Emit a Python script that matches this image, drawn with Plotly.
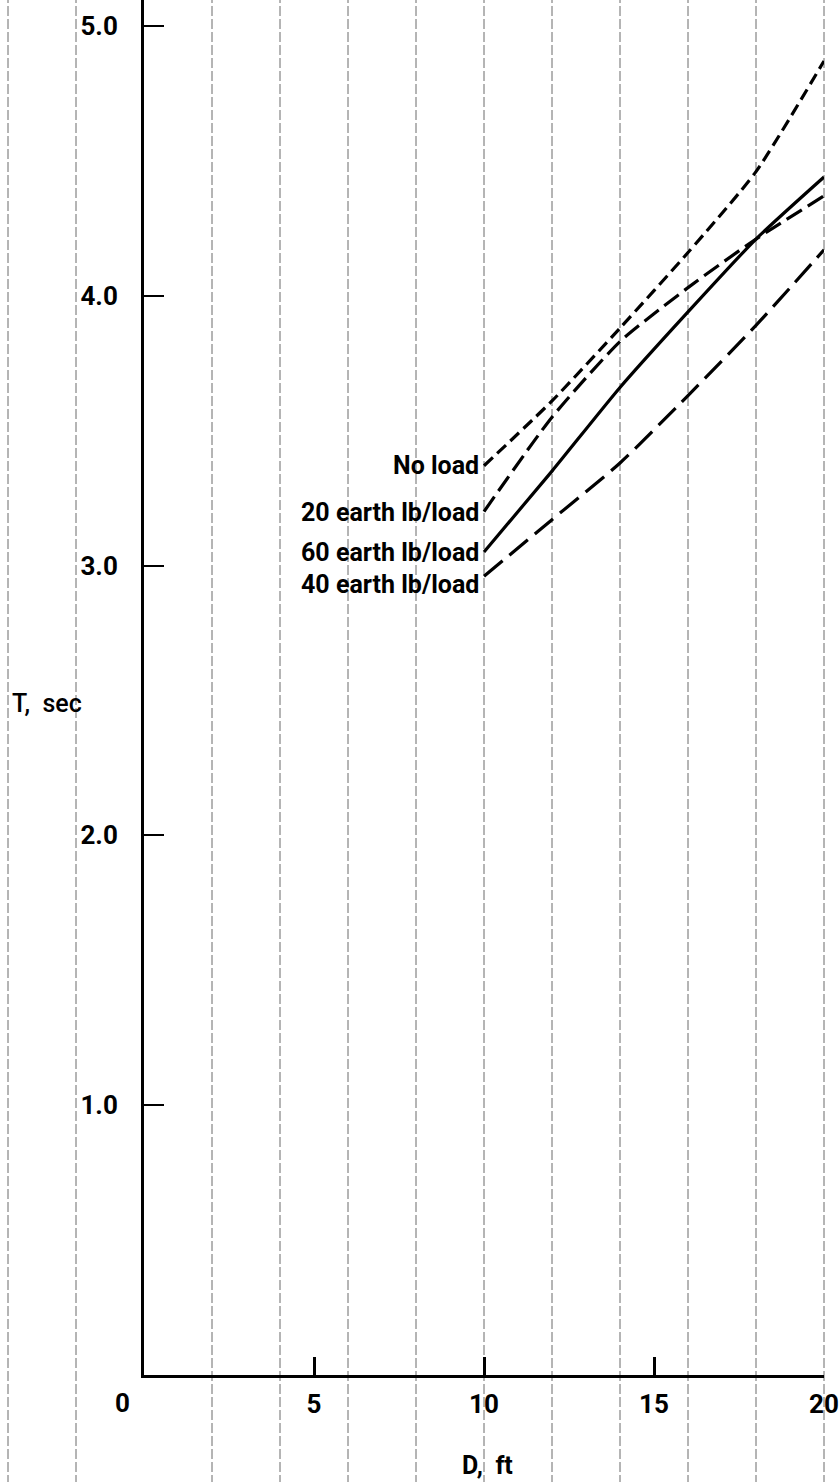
import plotly.graph_objects as go

# ---- data ----
D = [10, 12, 14, 16, 18, 20]
no_load = [3.37, 3.61, 3.88, 4.16, 4.46, 4.87]
lb20 = [3.20, 3.55, 3.83, 4.03, 4.21, 4.37]
lb60 = [3.05, 3.35, 3.66, 3.94, 4.21, 4.44]
lb40 = [2.96, 3.17, 3.38, 3.63, 3.89, 4.17]

series_names = ["No load", "20 earth lb/load", "60 earth lb/load", "40 earth lb/load"]
label_y = [3.37, 3.195, 3.05, 2.93]
series_dash = ["12px,6px", "18px,7px", "solid", "24px,9px"]

x_ticks = [5, 10, 15, 20]
y_ticks = [1.0, 2.0, 3.0, 4.0, 5.0]
y_tick_text = ["1.0", "2.0", "3.0", "4.0", "5.0"]
grid_x = [-4, -2, 2, 4, 6, 8, 10, 12, 14, 16, 18, 20]

X_RANGE = [0, 20]
Y_RANGE = [0, 5.096]

FONT = "Roboto, DejaVu Sans Condensed, sans-serif"

PLOT_L, PLOT_W, PLOT_H = 144, 680, 1375


def paper_x(px):
    return (px - PLOT_L) / PLOT_W


def paper_y(py):
    return 1 - py / PLOT_H


fig = go.Figure()

for vals, name, dash in zip([no_load, lb20, lb60, lb40], series_names, series_dash):
    fig.add_trace(go.Scatter(
        x=D, y=vals, mode="lines", name=name,
        line=dict(color="black", width=3.2, dash=dash, shape="spline", smoothing=0.6),
        showlegend=False,
    ))

# faint vertical graph-paper lines spanning the sheet
for gx in grid_x:
    px = (gx - X_RANGE[0]) / (X_RANGE[1] - X_RANGE[0])
    fig.add_shape(type="line", xref="paper", yref="paper",
                  x0=px, x1=px, y0=-0.08, y1=1.0,
                  line=dict(color="#6a6a6a", width=1, dash="10px,3px"),
                  layer="below")

# curve labels
for name, ly in zip(series_names, label_y):
    fig.add_annotation(x=D[0], y=ly, xref="x", yref="y", text=name,
                       showarrow=False, xanchor="right", yanchor="middle",
                       xshift=-3,
                       font=dict(family=FONT, size=25, color="black", weight="bold"))

# corner zero label
fig.add_annotation(x=paper_x(122), y=paper_y(1403), xref="paper", yref="paper",
                   text="0", showarrow=False, xanchor="center", yanchor="middle",
                   font=dict(family=FONT, size=26, color="black", weight="bold"))

# axis titles
fig.add_annotation(x=paper_x(47), y=paper_y(703), xref="paper", yref="paper",
                   text="T,  sec", showarrow=False,
                   xanchor="center", yanchor="middle",
                   font=dict(family=FONT, size=25, color="black", weight=500))
fig.add_annotation(x=paper_x(487), y=paper_y(1465), xref="paper", yref="paper",
                   text="D,  ft", showarrow=False,
                   xanchor="center", yanchor="middle",
                   font=dict(family=FONT, size=25, color="black", weight="bold"))

fig.update_layout(
    width=840, height=1482,
    margin=dict(l=PLOT_L, r=840 - PLOT_L - PLOT_W, t=0, b=1482 - PLOT_H),
    paper_bgcolor="white", plot_bgcolor="white",
    font=dict(family=FONT, color="black"),
    xaxis=dict(range=X_RANGE, tickvals=x_ticks, ticktext=[str(v) for v in x_ticks],
               ticks="inside", ticklen=18, tickwidth=2.5, tickcolor="black",
               showline=True, linecolor="black", linewidth=3,
               showgrid=False, zeroline=False, ticklabelstandoff=4,
               ticklabeloverflow="allow",
               tickfont=dict(family=FONT, size=26, color="black", weight="bold")),
    yaxis=dict(range=Y_RANGE, tickvals=y_ticks, ticktext=y_tick_text,
               ticks="inside", ticklen=20, tickwidth=2, tickcolor="black",
               showline=True, linecolor="black", linewidth=3,
               showgrid=False, zeroline=False, ticklabelstandoff=18,
               tickfont=dict(family=FONT, size=26, color="black", weight="bold")),
)

fig.write_html("out.html", config={"displayModeBar": False},
               post_script="document.body.style.margin='0px';")
